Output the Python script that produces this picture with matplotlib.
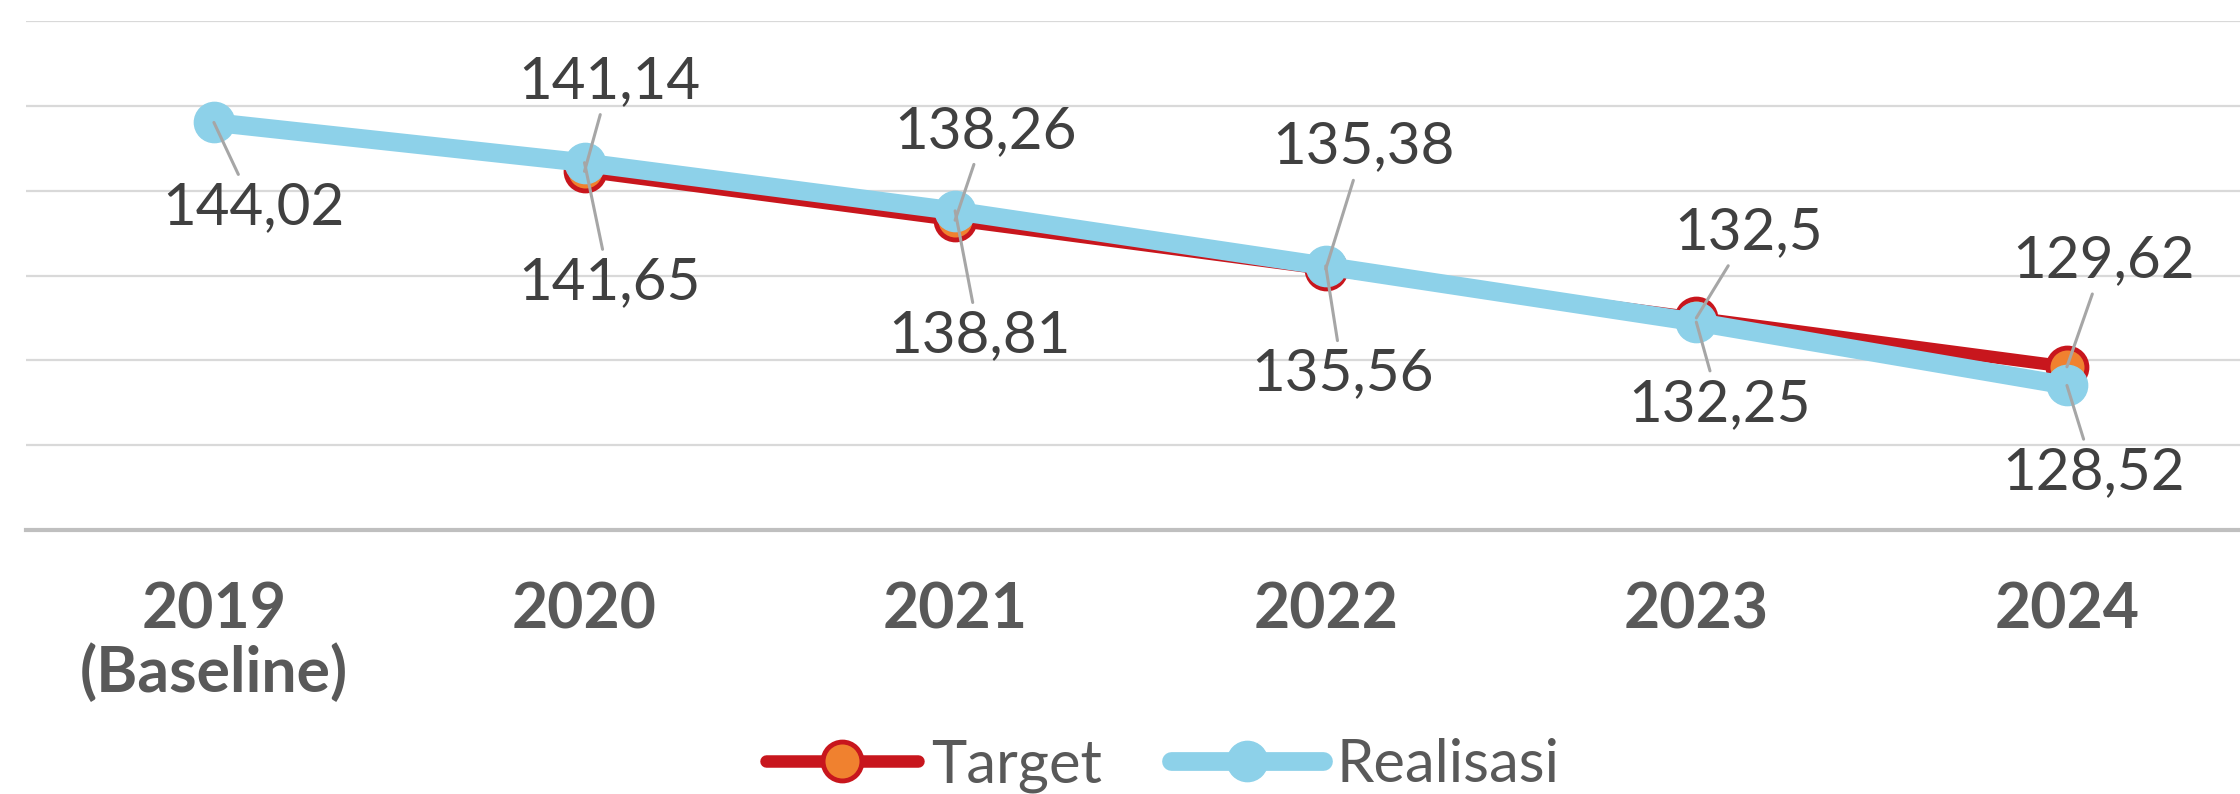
import numpy as np
import matplotlib
matplotlib.use('Agg')
import matplotlib.pyplot as plt

plt.rcParams['font.family'] = ['Lato', 'DejaVu Sans']

years = ['2019\n(Baseline)', '2020', '2021', '2022', '2023', '2024']
target_years = [1, 2, 3, 4, 5]
target = [141.14, 138.26, 135.38, 132.5, 129.62]
realisasi = [144.02, 141.65, 138.81, 135.56, 132.25, 128.52]

# label offsets in pixels (dx right, dy down) measured on the reference
real_offsets = [(40, 85), (25, 120), (24, 125), (17, 108), (23, 82), (27, 87)]
target_offsets = [(25, -90), (30, -89), (38, -122), (52, -85), (37, -106)]

RED = '#C8161D'
ORANGE = '#F0812F'
BLUE = '#8DD1E9'
GRID = '#D9D9D9'
TXT = '#404040'


def fmt(v):
    s = f'{v:.2f}'.rstrip('0').rstrip('.')
    return s.replace('.', ',')


def add_labels(ax, xs, vals, offsets):
    for x, v, (dx, dy) in zip(xs, vals, offsets):
        ax.annotate(fmt(v), xy=(x, v), xytext=(dx * 0.72, -dy * 0.72),
                    textcoords='offset points', ha='center', va='center',
                    fontsize=42, color=TXT, zorder=10,
                    arrowprops=dict(arrowstyle='-', color='#A6A6A6', lw=2.2,
                                    shrinkA=3, shrinkB=0))


fig = plt.figure(figsize=(22.4, 7.94), dpi=100)
ax = fig.add_axes([26 / 2240, (794 - 530) / 794, 1 - 26 / 2240, (530 - 21) / 794])

x_all = np.arange(len(years))
l1, = ax.plot(target_years, target, color=RED, lw=9, marker='o', markersize=28,
              markerfacecolor=ORANGE, markeredgecolor=RED, markeredgewidth=3.5,
              solid_capstyle='round', zorder=3, label='Target')
l2, = ax.plot(x_all, realisasi, color=BLUE, lw=13.5, marker='o', markersize=29,
              markerfacecolor=BLUE, markeredgecolor=BLUE,
              solid_capstyle='round', zorder=4, label='Realisasi')

add_labels(ax, x_all, realisasi, real_offsets)
add_labels(ax, target_years, target, target_offsets)

ax.set_xlim(-0.507, 5.467)
ax.set_ylim(120, 150)
ax.set_yticks(np.arange(120, 151, 5))
ax.set_yticklabels([])
ax.yaxis.grid(True, color=GRID, lw=1.6)
ax.set_axisbelow(True)
ax.tick_params(axis='y', length=0)

ax.set_xticks(x_all)
ax.set_xticklabels(years, fontsize=45, fontweight='bold', color='#595959',
                   linespacing=1.08, va='top')
ax.tick_params(axis='x', length=0, pad=37)

for side in ['top', 'left', 'right']:
    ax.spines[side].set_visible(False)
ax.spines['bottom'].set_color('#BFBFBF')
ax.spines['bottom'].set_linewidth(3)

leg = fig.legend(handles=[l1, l2], loc='center', bbox_to_anchor=(0.519, 0.036),
                 ncol=2, frameon=False, fontsize=43, handlelength=2.55,
                 handletextpad=0.22, columnspacing=1.15)
for t in leg.get_texts():
    t.set_color('#595959')

fig.savefig('out.png', dpi=100, facecolor='white')
